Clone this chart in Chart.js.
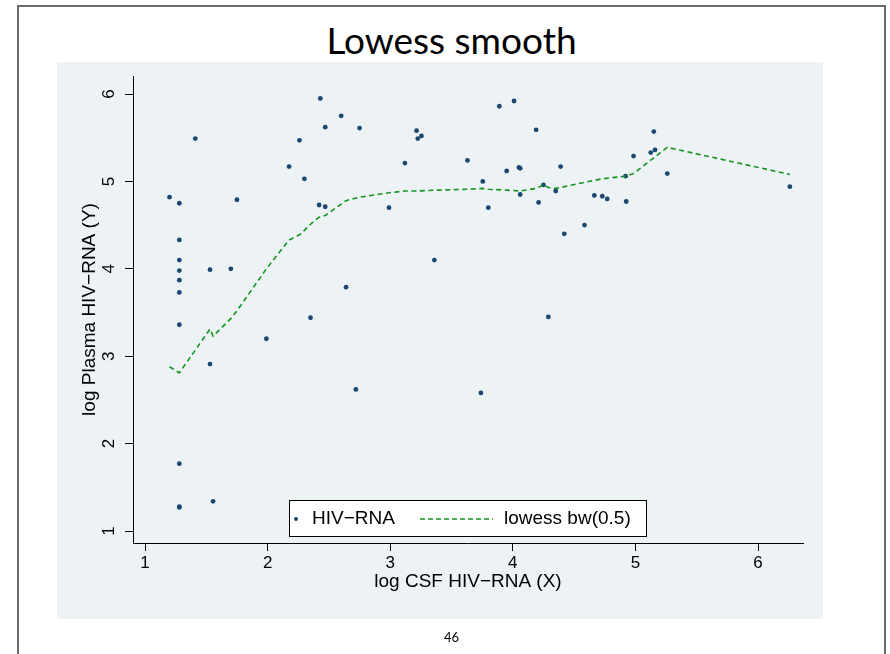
<!DOCTYPE html>
<html><head><meta charset="utf-8">
<script src="https://cdn.jsdelivr.net/npm/chart.js@4"></script>
<style>
html,body{margin:0;padding:0;background:#fff;width:890px;height:654px;overflow:hidden;}
#frame{position:absolute;left:17px;top:5px;width:869px;height:680px;border:2px solid #6a6a6a;border-bottom:none;box-sizing:border-box;}
#panel{position:absolute;left:57px;top:62px;width:766px;height:557px;background:#edf2f5;}
#title{position:absolute;left:0;width:903px;top:18px;text-align:center;font-family:Lato,"Open Sans",sans-serif;font-size:37px;line-height:44px;color:#000;}
#page{position:absolute;left:0;width:903px;top:629px;text-align:center;font-family:Lato,sans-serif;font-size:13px;line-height:16px;color:#000;}
#c{position:absolute;left:0;top:0;}
</style></head>
<body>
<div id="frame"></div>
<div id="panel"></div>
<div id="title">Lowess smooth</div>
<canvas id="c" width="890" height="654"></canvas>
<div id="page">46</div>
<script>
// log CSF HIV-RNA (X) and log Plasma HIV-RNA (Y)
const csfX = [1.20,1.28,1.28,1.28,1.28,1.28,1.28,1.28,1.28,1.28,1.28,1.41,1.53,1.53,1.555,1.70,1.75,1.99,
  2.175,2.26,2.30,2.35,2.42,2.43,2.47,2.47,2.60,2.64,2.72,2.75,2.99,3.12,3.215,3.225,3.255,3.36,
  3.63,3.74,3.755,3.80,3.89,3.95,4.01,4.05,4.06,4.06,4.19,4.21,4.25,4.29,4.35,4.39,4.42,4.585,
  4.665,4.73,4.77,4.92,4.925,4.985,5.125,5.15,5.16,5.26,6.26];
const plasmaY = [4.82,4.75,4.33,4.10,3.98,3.87,3.73,3.36,1.77,1.28,1.27,5.49,3.99,2.91,1.34,4.00,4.79,3.20,
  5.17,5.47,5.03,3.44,4.73,5.95,5.62,4.71,5.75,3.79,2.62,5.61,4.70,5.21,5.58,5.49,5.52,4.10,
  5.24,2.58,5.00,4.70,5.86,5.12,5.92,5.16,5.15,4.85,5.59,4.76,4.96,3.45,4.89,5.17,4.40,4.50,
  4.84,4.83,4.80,5.06,4.77,5.29,5.33,5.57,5.36,5.09,4.94];
// lowess smooth, bandwidth 0.5
const lowessX = [1.20,1.28,1.53,1.555,1.70,1.75,1.99,2.175,2.26,2.30,2.35,2.42,2.47,2.60,2.64,2.72,2.75,
  2.99,3.12,3.225,3.36,3.63,3.755,3.80,3.95,4.06,4.19,4.25,4.29,4.35,4.42,4.585,4.73,4.92,4.985,5.15,5.26,6.26];
const lowessY = [2.88,2.81,3.31,3.23,3.43,3.52,4.00,4.33,4.39,4.44,4.51,4.59,4.61,4.74,4.78,4.81,4.82,
  4.87,4.89,4.89,4.90,4.91,4.92,4.91,4.90,4.89,4.92,4.96,4.93,4.92,4.94,4.99,5.03,5.06,5.09,5.27,5.39,5.08];
const xTicks = [1,2,3,4,5,6];
const yTicks = [1,2,3,4,5,6];
const seriesNames = ['HIV\u2212RNA','lowess bw(0.5)'];
const axisTitles = ['log CSF HIV\u2212RNA (X)','log Plasma HIV\u2212RNA (Y)'];

const pointColor = '#1a476f';
const lineColor = '#12951a';
const FONT = '"Liberation Sans", Arial, Helvetica, sans-serif';

const legendInPlot = {
  id: 'legendInPlot',
  afterDatasetsDraw(chart) {
    const {ctx, chartArea: ca} = chart;
    const w = 358, h = 37;
    const x0 = Math.round((ca.left + ca.right) / 2 - w / 2);
    const y0 = Math.round(ca.bottom - 6 - h);
    ctx.save();
    ctx.fillStyle = '#fff';
    ctx.fillRect(x0, y0, w, h);
    ctx.strokeStyle = '#000';
    ctx.lineWidth = 1;
    ctx.strokeRect(x0 + 0.5, y0 + 0.5, w - 1, h - 1);
    const cy = y0 + h / 2 + 0.5;
    ctx.fillStyle = pointColor;
    ctx.beginPath(); ctx.arc(x0 + 7, cy, 2, 0, Math.PI * 2); ctx.fill();
    ctx.font = '19px ' + FONT;
    ctx.fillStyle = '#000';
    ctx.textBaseline = 'middle';
    ctx.textAlign = 'left';
    ctx.fillText(chart.data.datasets[0].label, x0 + 23, cy);
    ctx.strokeStyle = lineColor;
    ctx.lineWidth = 1.5;
    ctx.setLineDash([5, 3]);
    ctx.beginPath(); ctx.moveTo(x0 + 131, cy); ctx.lineTo(x0 + 204, cy); ctx.stroke();
    ctx.setLineDash([]);
    ctx.fillText(chart.data.datasets[1].label, x0 + 215, cy);
    ctx.restore();
  }
};

new Chart(document.getElementById('c'), {
  type: 'scatter',
  data: {
    datasets: [
      {
        label: seriesNames[0],
        data: csfX.map((x, i) => ({x: x, y: plasmaY[i]})),
        backgroundColor: pointColor,
        borderColor: pointColor,
        borderWidth: 0,
        pointRadius: 2.4,
        order: 1
      },
      {
        label: seriesNames[1],
        data: lowessX.map((x, i) => ({x: x, y: lowessY[i]})),
        showLine: true,
        borderColor: lineColor,
        borderWidth: 1.6,
        borderDash: [5, 3.5],
        pointRadius: 0,
        tension: 0,
        fill: false,
        order: 0
      }
    ]
  },
  options: {
    responsive: false,
    animation: false,
    devicePixelRatio: 1,
    layout: {padding: {left: 57, right: 87, top: 76, bottom: 35}},
    plugins: {legend: {display: false}, tooltip: {enabled: false}, title: {display: false}},
    scales: {
      x: {
        type: 'linear', min: 0.902, max: 6.367,
        afterBuildTicks: s => { s.ticks = xTicks.map(v => ({value: v})); },
        afterFit: s => { s.height = 76; },
        ticks: {autoSkip: false, maxRotation: 0, minRotation: 0, padding: 2, color: '#000',
                font: {family: FONT, size: 17}},
        grid: {drawOnChartArea: false, drawTicks: true, tickLength: 8, color: '#000', tickColor: '#000', tickWidth: 1},
        border: {display: true, color: '#000', width: 1},
        title: {display: true, text: axisTitles[0], color: '#000', font: {family: FONT, size: 19},
                padding: {top: 0, bottom: 25.6}}
      },
      y: {
        type: 'linear', min: 0.863, max: 6.206,
        afterBuildTicks: s => { s.ticks = yTicks.map(v => ({value: v})); },
        afterFit: s => { s.width = 76; },
        ticks: {autoSkip: false, minRotation: 90, maxRotation: 90, crossAlign: 'center', padding: 11,
                color: '#000', font: {family: FONT, size: 17}},
        grid: {drawOnChartArea: false, drawTicks: true, tickLength: 8, color: '#000', tickColor: '#000', tickWidth: 1},
        border: {display: true, color: '#000', width: 1},
        title: {display: true, text: axisTitles[1], color: '#000', font: {family: FONT, size: 19},
                padding: {top: 21.6, bottom: 0}}
      }
    }
  },
  plugins: [legendInPlot]
});
</script>
</body></html>
